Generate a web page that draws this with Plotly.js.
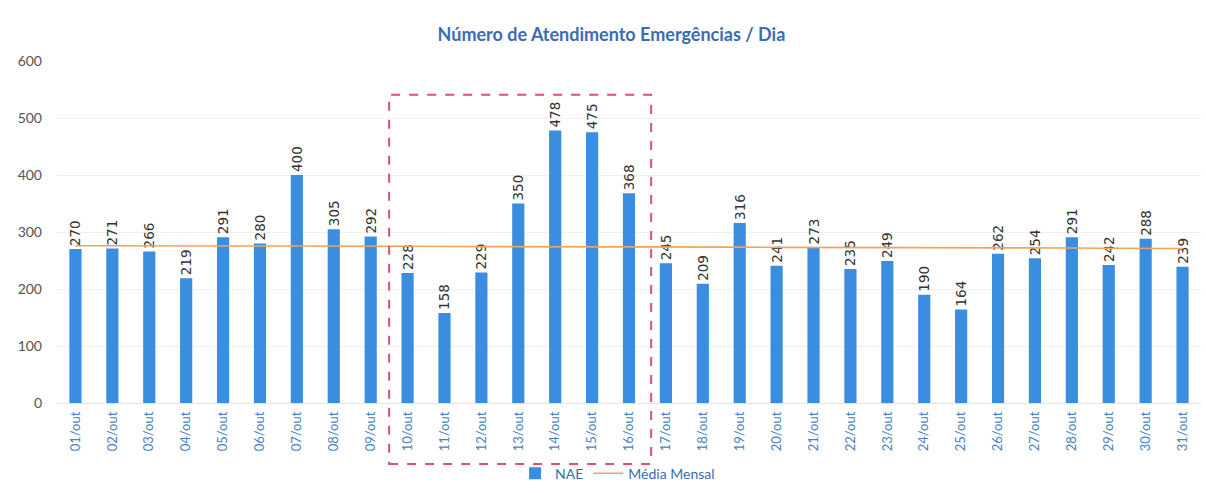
<!DOCTYPE html>
<html>
<head>
<meta charset="utf-8">
<script src="https://cdn.plot.ly/plotly-3.0.1.min.js"></script>
<style>html,body{margin:0;padding:0;background:#fff;}#chart{width:1206px;height:493px;}</style>
</head>
<body>
<div id="chart"></div>
<script>
const dias = ["01/out","02/out","03/out","04/out","05/out","06/out","07/out","08/out","09/out","10/out","11/out","12/out","13/out","14/out","15/out","16/out","17/out","18/out","19/out","20/out","21/out","22/out","23/out","24/out","25/out","26/out","27/out","28/out","29/out","30/out","31/out"];
const nae = [270,271,266,219,291,280,400,305,292,228,158,229,350,478,475,368,245,209,316,241,273,235,249,190,164,262,254,291,242,288,239];
const mediaMensal = [276,276,276,276,275.5,275.5,275.5,275,275,275,274.5,274.5,274.5,274,274,274,273.5,273.5,273.5,273,273,273,272.5,272.5,272.5,272,272,272,271.5,271.5,271];
const yTicks = [0,100,200,300,400,500,600];

const traces = [
  {
    type: 'bar', name: 'NAE', x: dias, y: nae,
    marker: {color: '#3b8de0'},
    text: nae.map(String), textposition: 'outside', textangle: -90, constraintext: 'none',
    textfont: {family: 'DejaVu Sans, sans-serif', size: 13.5, color: '#333'},
    cliponaxis: false, hoverinfo: 'x+y'
  },
  {
    type: 'scatter', mode: 'lines', name: 'Média Mensal', x: dias, y: mediaMensal,
    line: {color: '#f0a45a', width: 1.6}
  }
];

const layout = {
  width: 1206, height: 493,
  margin: {l: 57, r: 5, t: 61, b: 89},
  paper_bgcolor: '#ffffff', plot_bgcolor: '#ffffff',
  title: {text: '<b>Número de Atendimento Emergências / Dia</b>', x: 0.507, xanchor: 'center', y: 0.93, yanchor: 'middle',
          font: {family: 'Lato, Open Sans, sans-serif', size: 18, color: '#3a6db4'}},
  bargap: 0.67,
  showlegend: true,
  legend: {orientation: 'h', x: 0.49, xanchor: 'center', y: -0.203, yanchor: 'middle',
           bgcolor: 'rgba(0,0,0,0)',
           font: {family: 'Lato, sans-serif', size: 14, color: '#3a6db4'}, traceorder: 'normal'},
  xaxis: {
    type: 'category', tickangle: -90, showgrid: false, zeroline: false,
    tickfont: {family: 'Lato, sans-serif', size: 13, color: '#4a82c6'},
    ticks: '', showline: false, automargin: false, ticklabelstandoff: 5
  },
  yaxis: {
    range: [0, 600], tickvals: yTicks, showgrid: true, gridcolor: '#f0f0f0', gridwidth: 1,
    zeroline: true, zerolinecolor: '#e4e4e4',
    tickfont: {family: 'Lato, sans-serif', size: 14, color: '#555'}, ticks: '', ticklen: 0,
    automargin: false, ticklabelstandoff: 14
  },
  shapes: [{
    type: 'rect', xref: 'x', yref: 'paper', x0: 8.5, x1: 15.6, y0: -0.178, y1: 0.901,
    line: {color: '#d9507a', width: 2, dash: 'dash'}, fillcolor: 'rgba(0,0,0,0)', layer: 'above'
  }]
};

Plotly.newPlot('chart', traces, layout, {displayModeBar: false, responsive: false});
</script>
</body>
</html>
